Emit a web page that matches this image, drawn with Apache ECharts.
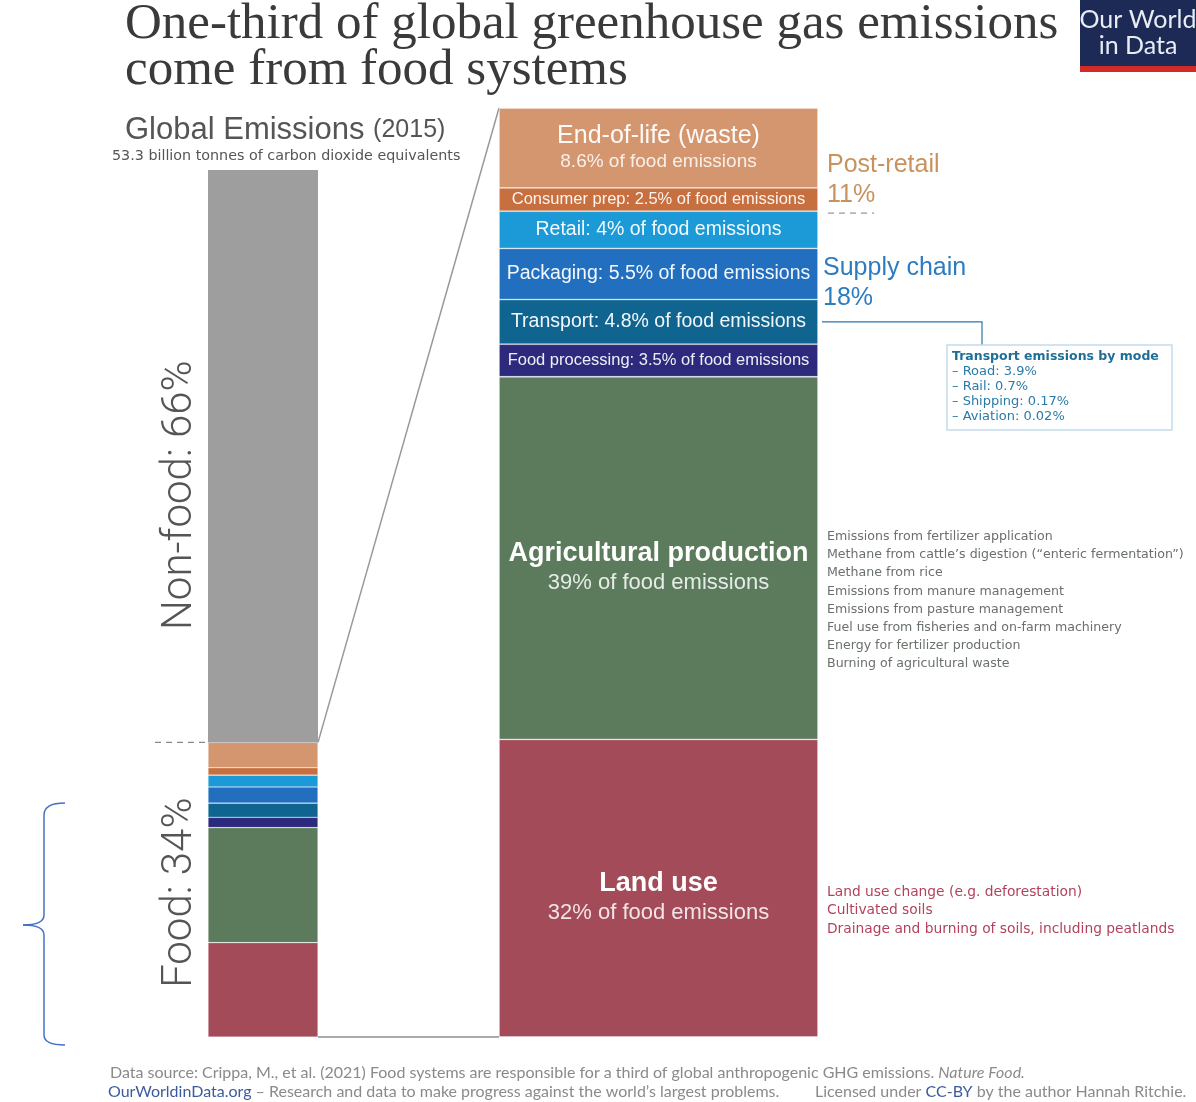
<!DOCTYPE html>
<html><head><meta charset="utf-8">
<script src="https://cdn.jsdelivr.net/npm/echarts@6/dist/echarts.min.js"></script>
<style>html,body{margin:0;padding:0;background:#fff}#c{width:1196px;height:1102px}</style>
</head><body><div id="c"></div>
<script>
// ---- data (bottom to top) ----
const foodStages = ['Land use', 'Agricultural production', 'Food processing', 'Transport', 'Packaging', 'Retail', 'Consumer prep', 'End-of-life (waste)'];
const foodShares = [32, 39, 3.5, 4.8, 5.5, 4, 2.5, 8.6];
const globalGroups = ['Food', 'Non-food'];
const globalShares = [34, 66];
const totalEmissionsLabel = '53.3 billion tonnes of carbon dioxide equivalents';
const stageGroups = ['Post-retail', 'Supply chain'];
const stageGroupShares = [11, 18];
const transportModes = ['Road', 'Rail', 'Shipping', 'Aviation'];
const transportModeShares = ['3.9', '0.7', '0.17', '0.02'];
const agriSources = ['Emissions from fertilizer application', 'Methane from cattle\u2019s digestion (\u201centeric fermentation\u201d)', 'Methane from rice', 'Emissions from manure management', 'Emissions from pasture management', 'Fuel use from fisheries and on-farm machinery', 'Energy for fertilizer production', 'Burning of agricultural waste'];
const landSources = ['Land use change (e.g. deforestation)', 'Cultivated soils', 'Drainage and burning of soils, including peatlands'];

// ---- styles ----
const stageColors = ['#a34b59', '#5b7b5c', '#2d2a7e', '#0f6490', '#226fbf', '#1b9ad7', '#c76f3e', '#d3966f'];
const labelKinds = ['big', 'big', 'small', 'line', 'line', 'line', 'small', 'medium'];
const nonFoodColor = '#9e9e9e';
const SANS = '"Liberation Sans", Arial, Helvetica, sans-serif';
const WIDE = '"DejaVu Sans", Verdana, sans-serif';
const GL = {left: 208, top: 170, width: 110, height: 867};
const GR = {left: 499, top: 108, width: 319, height: 929};

const chart = echarts.init(document.getElementById('c'), null, {renderer: 'canvas'});

function labelFor(i) {
  const kind = labelKinds[i];
  const name = foodStages[i];
  const v = foodShares[i];
  if (kind === 'big') return {formatter: '{t|' + name + '}\n{s|' + v + '% of food emissions}', offset: [0, 9]};
  if (kind === 'medium') return {formatter: '{m|' + name + '}\n{ms|' + v + '% of food emissions}', offset: [0, 0]};
  if (kind === 'small') return {formatter: '{sm|' + name + ': ' + v + '% of food emissions}', offset: [0, 0]};
  return {formatter: '{ln|' + name + ': ' + v + '% of food emissions}', offset: [0, 0]};
}

const rich = {
  t: {fontFamily: SANS, fontWeight: 'bold', fontSize: 27, lineHeight: 32, color: '#fff'},
  s: {fontFamily: SANS, fontSize: 22, lineHeight: 28, color: 'rgba(255,255,255,0.85)'},
  m: {fontFamily: SANS, fontSize: 25, lineHeight: 28, color: 'rgba(255,255,255,0.95)'},
  ms: {fontFamily: SANS, fontSize: 19, lineHeight: 24, color: 'rgba(255,255,255,0.85)'},
  sm: {fontFamily: SANS, fontSize: 16.5, lineHeight: 20, color: 'rgba(255,255,255,0.92)'},
  ln: {fontFamily: SANS, fontSize: 19.5, lineHeight: 22, color: 'rgba(255,255,255,0.95)'}
};

const series = [];
foodStages.forEach((name, i) => {
  series.push({
    name: name + ' (global)', type: 'bar', stack: 'global', xAxisIndex: 0, yAxisIndex: 0,
    data: [foodShares[i] * globalShares[0] / 100], barWidth: '100%', silent: true,
    itemStyle: {color: stageColors[i], borderColor: 'rgba(255,255,255,0.4)', borderWidth: 0.6}
  });
});
series.push({
  name: globalGroups[1], type: 'bar', stack: 'global', xAxisIndex: 0, yAxisIndex: 0,
  data: [globalShares[1]], barWidth: '100%', silent: true,
  itemStyle: {color: nonFoodColor}
});
foodStages.forEach((name, i) => {
  const l = labelFor(i);
  series.push({
    name: name, type: 'bar', stack: 'food', xAxisIndex: 1, yAxisIndex: 1,
    data: [foodShares[i]], barWidth: '100%', silent: true,
    itemStyle: {color: stageColors[i], borderColor: 'rgba(255,255,255,0.4)', borderWidth: 0.8},
    label: {show: true, position: 'inside', formatter: l.formatter, offset: l.offset, rich: rich, color: '#fff'}
  });
});

chart.setOption({
  animation: false,
  backgroundColor: '#ffffff',
  grid: [
    Object.assign({containLabel: false}, GL),
    Object.assign({containLabel: false}, GR)
  ],
  xAxis: [
    {type: 'category', gridIndex: 0, data: ['Global'], show: false},
    {type: 'category', gridIndex: 1, data: ['Food'], show: false}
  ],
  yAxis: [
    {type: 'value', gridIndex: 0, min: 0, max: v => v.max, show: false, splitLine: {show: false}},
    {type: 'value', gridIndex: 1, min: 0, max: v => v.max, show: false, splitLine: {show: false}}
  ],
  series: series
});

// ---- derived positions from the scales ----
const cum = [];
foodShares.reduce((a, b, i) => (cum[i] = a + b), 0);
const rightTotal = cum[cum.length - 1];
const yR = v => chart.convertToPixel({yAxisIndex: 1}, v);
const yL = v => chart.convertToPixel({yAxisIndex: 0}, v);
const leftFoodTop = yL(rightTotal * globalShares[0] / 100);
const leftBottom = yL(0);
const rightTop = yR(rightTotal);
const rightBottom = yR(0);
const lRight = GL.left + GL.width;
const rRight = GR.left + GR.width;
const iRetail = foodStages.indexOf('Retail');
const iTransport = foodStages.indexOf('Transport');
const postRetailTop = yR(rightTotal);
const postRetailBottom = yR(cum[iRetail]);
const transportMid = yR(cum[iTransport] - foodShares[iTransport] / 2);
const nonFoodMid = (yL(rightTotal * globalShares[0] / 100) + yL(rightTotal * globalShares[0] / 100 + globalShares[1])) / 2;
const foodMid = (leftFoodTop + leftBottom) / 2;

const g = [];
// title
const TITLE_FONT = '51px "Liberation Serif", "DejaVu Serif", serif';
g.push({type: 'text', x: 125, y: 25, style: {text: 'One-third of global greenhouse gas emissions', font: TITLE_FONT, fill: '#3a3a3a', align: 'left', verticalAlign: 'middle'}});
g.push({type: 'text', x: 125, y: 71, style: {text: 'come from food systems', font: TITLE_FONT, fill: '#3a3a3a', align: 'left', verticalAlign: 'middle'}});
// logo
g.push({type: 'rect', shape: {x: 1080, y: 0, width: 116, height: 66}, style: {fill: '#1c2a55'}});
g.push({type: 'rect', shape: {x: 1080, y: 66, width: 116, height: 6}, style: {fill: '#d02b27'}});
g.push({type: 'text', x: 1138, y: 20, style: {text: 'Our World', font: '25px Lato, "Liberation Sans", sans-serif', fill: '#e8ecf4', align: 'center', verticalAlign: 'middle'}});
g.push({type: 'text', x: 1138, y: 46, style: {text: 'in Data', font: '25px Lato, "Liberation Sans", sans-serif', fill: '#e8ecf4', align: 'center', verticalAlign: 'middle'}});
// left header
g.push({type: 'text', x: 125, y: 130, style: {text: '{a|Global Emissions }{b|(2015)}', align: 'left', verticalAlign: 'middle',
  rich: {a: {font: '31px ' + SANS, fill: '#555'}, b: {font: '25px ' + SANS, fill: '#555'}}}});
g.push({type: 'text', x: 112, y: 156, style: {text: totalEmissionsLabel, font: '14.3px ' + WIDE, fill: '#555', align: 'left', verticalAlign: 'middle'}});
// rotated group labels
g.push({type: 'text', x: 180, y: nonFoodMid + 39, rotation: Math.PI / 2, style: {text: globalGroups[1] + ': ' + globalShares[1] + '%', font: '300 42px Roboto, ' + SANS, fill: '#555', align: 'center', verticalAlign: 'middle'}});
g.push({type: 'text', x: 180, y: foodMid + 3, rotation: Math.PI / 2, style: {text: globalGroups[0] + ': ' + globalShares[0] + '%', font: '300 42px Roboto, ' + SANS, fill: '#555', align: 'center', verticalAlign: 'middle'}});
// dashed marker at food top (left)
g.push({type: 'line', shape: {x1: 155, y1: leftFoodTop, x2: GL.left - 3, y2: leftFoodTop}, style: {stroke: '#888', lineWidth: 1.2, lineDash: [6, 5]}});
// connectors
g.push({type: 'line', shape: {x1: lRight, y1: leftFoodTop, x2: GR.left, y2: rightTop}, style: {stroke: '#999', lineWidth: 1.5}});
g.push({type: 'line', shape: {x1: lRight, y1: leftBottom, x2: GR.left, y2: rightBottom}, style: {stroke: '#aaa', lineWidth: 2}});
// stage groups
const prMid = (postRetailTop + postRetailBottom) / 2;
g.push({type: 'text', x: 827, y: prMid + 5, style: {text: stageGroups[0], font: '25px ' + SANS, fill: '#c8925f', align: 'left', verticalAlign: 'middle'}});
g.push({type: 'text', x: 827, y: prMid + 35, style: {text: stageGroupShares[0] + '%', font: '25px ' + SANS, fill: '#c8925f', align: 'left', verticalAlign: 'middle'}});
g.push({type: 'line', shape: {x1: 828, y1: postRetailBottom + 2, x2: 874, y2: postRetailBottom + 2}, style: {stroke: '#999', lineWidth: 1.2, lineDash: [6, 5]}});
g.push({type: 'text', x: 823, y: 268, style: {text: stageGroups[1], font: '25px ' + SANS, fill: '#2d7cc0', align: 'left', verticalAlign: 'middle'}});
g.push({type: 'text', x: 823, y: 298, style: {text: stageGroupShares[1] + '%', font: '25px ' + SANS, fill: '#2d7cc0', align: 'left', verticalAlign: 'middle'}});
// transport breakdown
g.push({type: 'polyline', shape: {points: [[rRight + 4, transportMid], [982, transportMid], [982, 345]]}, style: {stroke: '#2a7aaa', lineWidth: 1.2, fill: null}});
g.push({type: 'rect', shape: {x: 947, y: 345, width: 225, height: 85}, style: {fill: '#fff', stroke: '#c4dcea', lineWidth: 1.5}});
g.push({type: 'text', x: 952, y: 357, style: {text: 'Transport emissions by mode', font: 'bold 12.5px ' + WIDE, fill: '#1e6e98', align: 'left', verticalAlign: 'middle'}});
transportModes.forEach((m, i) => {
  g.push({type: 'text', x: 952, y: 372 + i * 15, style: {text: '\u2013 ' + m + ': ' + transportModeShares[i] + '%', font: '13px ' + WIDE, fill: '#2a7aa8', align: 'left', verticalAlign: 'middle'}});
});
// agriculture sources
agriSources.forEach((t, i) => {
  g.push({type: 'text', x: 827, y: 537 + i * 18.1, style: {text: t, font: '12.6px ' + WIDE, fill: '#6a706a', align: 'left', verticalAlign: 'middle'}});
});
// land sources
landSources.forEach((t, i) => {
  g.push({type: 'text', x: 827, y: 892 + i * 18.5, style: {text: t, font: '13.8px ' + WIDE, fill: '#b3415c', align: 'left', verticalAlign: 'middle'}});
});
// brace
const braceStyle = {stroke: '#4472c4', lineWidth: 1.5, fill: null};
g.push({type: 'bezierCurve', shape: {x1: 65, y1: 803, cpx1: 44, cpy1: 803, x2: 44, y2: 815}, style: braceStyle});
g.push({type: 'line', shape: {x1: 44, y1: 815, x2: 44, y2: 915}, style: braceStyle});
g.push({type: 'bezierCurve', shape: {x1: 44, y1: 915, cpx1: 44, cpy1: 925, x2: 23, y2: 925}, style: braceStyle});
g.push({type: 'bezierCurve', shape: {x1: 23, y1: 925, cpx1: 44, cpy1: 925, x2: 44, y2: 935}, style: braceStyle});
g.push({type: 'line', shape: {x1: 44, y1: 935, x2: 44, y2: 1035}, style: braceStyle});
g.push({type: 'bezierCurve', shape: {x1: 44, y1: 1035, cpx1: 44, cpy1: 1045, x2: 65, y2: 1045}, style: braceStyle});
// footer
const FOOT = '16px Lato, ' + SANS;
g.push({type: 'text', x: 110, y: 1073, style: {text: '{a|Data source: Crippa, M., et al. (2021) Food systems are responsible for a third of global anthropogenic GHG emissions. }{i|Nature Food.}', align: 'left', verticalAlign: 'middle',
  rich: {a: {font: FOOT, fill: '#8a8a8a'}, i: {font: 'italic ' + FOOT, fill: '#8a8a8a'}}}});
g.push({type: 'text', x: 108, y: 1092, style: {text: '{b|OurWorldinData.org}{a| \u2013 Research and data to make progress against the world\u2019s largest problems.}', align: 'left', verticalAlign: 'middle',
  rich: {a: {font: FOOT, fill: '#8a8a8a'}, b: {font: FOOT, fill: '#3b5c9c'}}}});
g.push({type: 'text', x: 815, y: 1092, style: {text: '{a|Licensed under }{b|CC-BY}{a| by the author Hannah Ritchie.}', align: 'left', verticalAlign: 'middle',
  rich: {a: {font: FOOT, fill: '#8a8a8a'}, b: {font: FOOT, fill: '#3b5c9c'}}}});

chart.setOption({graphic: {elements: g}});
</script>
</body></html>
